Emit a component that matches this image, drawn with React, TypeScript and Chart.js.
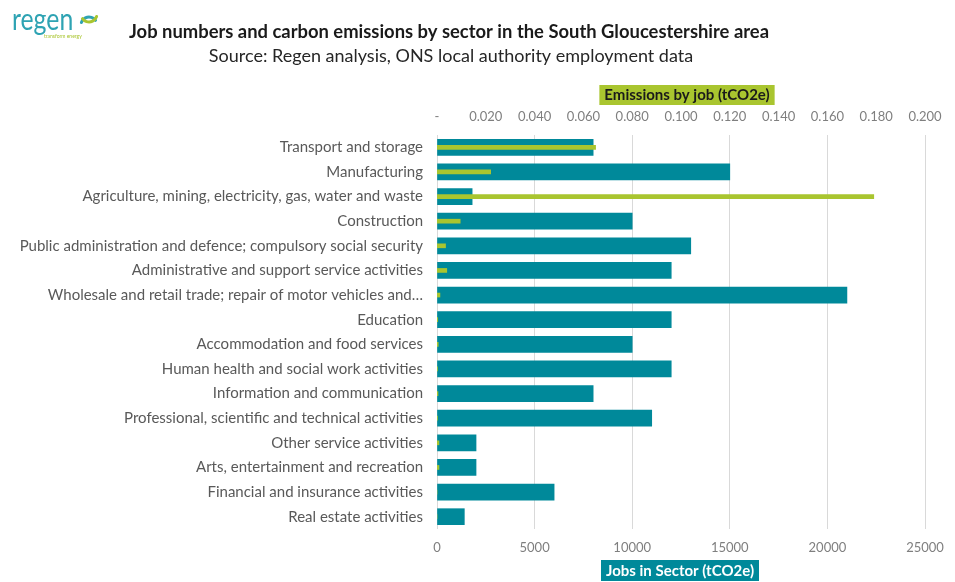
import React, { useEffect, useRef } from "react";
import { Chart, registerables } from "chart.js";

Chart.register(...registerables);

const categories = [
  "Transport and storage",
  "Manufacturing",
  "Agriculture, mining, electricity, gas, water and waste",
  "Construction",
  "Public administration and defence; compulsory social security",
  "Administrative and support service activities",
  "Wholesale and retail trade; repair of motor vehicles and…",
  "Education",
  "Accommodation and food services",
  "Human health and social work activities",
  "Information and communication",
  "Professional, scientific and technical activities",
  "Other service activities",
  "Arts, entertainment and recreation",
  "Financial and insurance activities",
  "Real estate activities",
];

const jobsInSector = [8000, 15000, 1800, 10000, 13000, 12000, 21000, 12000, 10000, 12000, 8000, 11000, 2000, 2000, 6000, 1400];
const emissionsByJob = [0.065, 0.022, 0.179, 0.0095, 0.0035, 0.004, 0.0012, 0.0003, 0.0005, 0.0002, 0.0004, 0.0002, 0.0008, 0.0008, 0, 0];

const titleText = "Job numbers and carbon emissions by sector in the South Gloucestershire area";
const subtitleText = "Source: Regen analysis, ONS local authority employment data";
const topAxisTitle = "Emissions by job (tCO2e)";
const bottomAxisTitle = "Jobs in Sector (tCO2e)";

const TEAL = "#00899a";
const GREEN = "#a9c52f";
const FONT = "Lato, 'Noto Sans', sans-serif";

const decorPlugin = {
  id: "decor",
  afterDraw(chart: any) {
    const ctx = chart.ctx;
    ctx.save();
    // logo
    ctx.save();
    ctx.translate(12, 30);
    ctx.scale(0.8, 1);
    ctx.fillStyle = "#2ea3b3";
    ctx.font = `400 31px ${FONT}`;
    ctx.textAlign = "left";
    ctx.textBaseline = "alphabetic";
    ctx.fillText("regen", 0, 0);
    ctx.restore();
    ctx.lineWidth = 3;
    ctx.lineCap = "round";
    ctx.strokeStyle = "#2ea3b3";
    ctx.beginPath();
    ctx.arc(89, 25, 8, Math.PI * 1.1, Math.PI * 1.8);
    ctx.stroke();
    ctx.strokeStyle = GREEN;
    ctx.beginPath();
    ctx.arc(89, 14, 8, Math.PI * 0.1, Math.PI * 0.8);
    ctx.stroke();
    ctx.fillStyle = GREEN;
    ctx.font = `5px ${FONT}`;
    ctx.textAlign = "left";
    ctx.fillText("transform energy", 44, 38);

    // title
    ctx.fillStyle = "#1a1a1a";
    ctx.textAlign = "center";
    ctx.textBaseline = "middle";
    ctx.font = `bold 18.4px ${FONT}`;
    ctx.fillText(titleText, 449, 32);
    ctx.font = `18px ${FONT}`;
    ctx.fillStyle = "#262626";
    ctx.fillText(subtitleText, 451, 56);

    // axis titles
    const cx = 687;
    ctx.font = `bold 15px ${FONT}`;
    let w = ctx.measureText(topAxisTitle).width + 10;
    ctx.fillStyle = GREEN;
    ctx.fillRect(cx - w / 2, 85, w, 20);
    ctx.fillStyle = "#1a1a1a";
    ctx.fillText(topAxisTitle, cx, 95.5);

    w = ctx.measureText(bottomAxisTitle).width + 10;
    const bx = 680;
    ctx.fillStyle = TEAL;
    ctx.fillRect(bx - w / 2, 560, w, 21);
    ctx.fillStyle = "#ffffff";
    ctx.fillText(bottomAxisTitle, bx, 571);
    ctx.restore();
  },
};

export default function App() {
  const ref = useRef<HTMLCanvasElement>(null);
  useEffect(() => {
    document.body.style.margin = "0";
    const chart = new Chart(ref.current!, {
      type: "bar",
      data: {
        labels: categories,
        datasets: [
          {
            label: topAxisTitle,
            data: emissionsByJob,
            backgroundColor: GREEN,
            xAxisID: "x2",
            barThickness: 4,
            grouped: false,
            order: 0,
          },
          {
            label: bottomAxisTitle,
            data: jobsInSector,
            backgroundColor: TEAL,
            xAxisID: "x",
            barThickness: 16,
            grouped: false,
            order: 1,
          },
        ],
      },
      options: {
        indexAxis: "y",
        responsive: false,
        animation: false,
        layout: { padding: { left: 8, right: 30, top: 105, bottom: 24 } },
        plugins: {
          legend: { display: false },
          tooltip: { enabled: false },
        },
        scales: {
          y: {
            grid: { display: false, drawTicks: false },
            border: { display: false },
            ticks: {
              color: "#595959",
              font: { family: FONT, size: 15 },
              padding: 14,
              autoSkip: false,
            },
            afterFit: (s: any) => {
              s.width = 429;
            },
          },
          x: {
            position: "bottom",
            min: 0,
            max: 25000,
            ticks: {
              stepSize: 5000,
              color: "#7f7f7f",
              font: { family: FONT, size: 13 },
              padding: 11,
              maxRotation: 0,
              callback: (v: any) => String(v),
            },
            grid: { color: "#d9d9d9", drawTicks: false },
            border: { display: false },
            afterFit: (s: any) => {
              s.height = 29;
            },
          },
          x2: {
            position: "top",
            min: 0,
            max: 0.2,
            ticks: {
              stepSize: 0.02,
              color: "#7f7f7f",
              font: { family: FONT, size: 13 },
              padding: 10,
              maxRotation: 0,
              callback: (v: any) => (Number(v) === 0 ? "-" : Number(v).toFixed(3)),
            },
            grid: { display: false, drawTicks: false },
            border: { display: false },
            afterFit: (s: any) => {
              s.height = 30;
            },
          },
        },
      },
      plugins: [decorPlugin],
    });
    return () => chart.destroy();
  }, []);
  return <canvas ref={ref} width={955} height={582} />;
}
